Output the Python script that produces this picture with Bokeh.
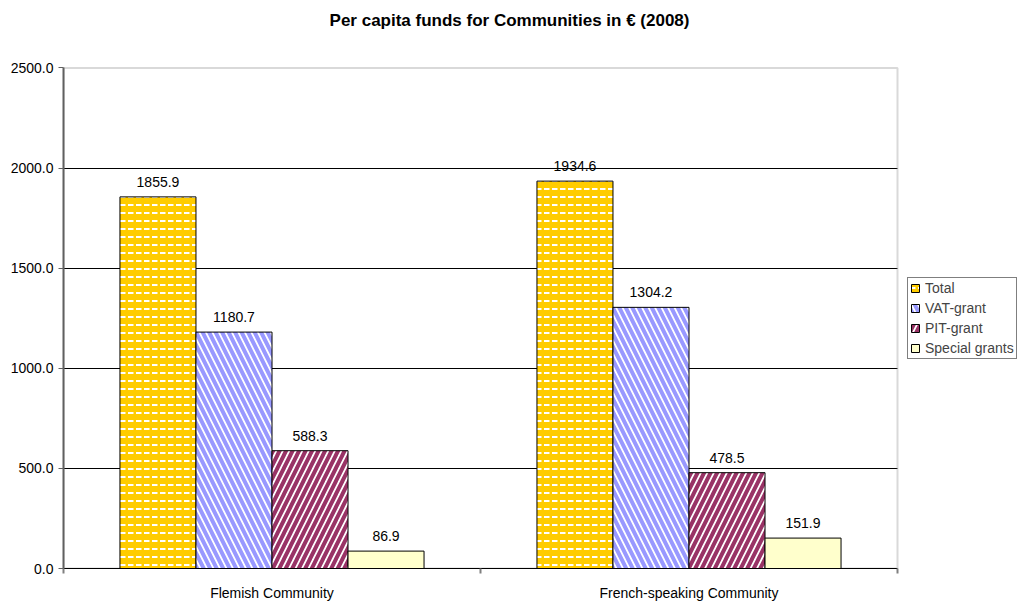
from bokeh.plotting import figure
from bokeh.models import (ColumnDataSource, FixedTicker, Range1d, Legend, LegendItem, Grid,
                          BoxAnnotation, Label)
from bokeh.core.properties import value
from bokeh.embed import file_html
from bokeh.resources import INLINE

title_text = "Per capita funds for Communities in € (2008)"
categories = ["Flemish Community", "French-speaking Community"]
series_names = ["Total", "VAT-grant", "PIT-grant", "Special grants"]
total = [1855.9, 1934.6]
vat_grant = [1180.7, 1304.2]
pit_grant = [588.3, 478.5]
special_grants = [86.9, 151.9]
y_ticks = [0, 500, 1000, 1500, 2000, 2500]

series_values = [total, vat_grant, pit_grant, special_grants]
fills = ["#FFCC00", "#FFFFFF", "#FFFFFF", "#FFFFCC"]
hatches = ["horizontal_dash", "left_diagonal_line", "right_diagonal_line", " "]
hatch_colors = ["#FFFFFF", "#9999FF", "#993366", "#FFFFFF"]
hatch_weights = [2, 4, 4, 1]
hatch_scales = [8, 13, 13, 8]

FONT = "Liberation Sans"
FS = "14px"
bar_w = 0.1823
n = len(categories)
y_max = y_ticks[-1]

# frame covers the whole canvas right/top; plot area is 834 x 505 px of it
W, H = 1020, 603
left_px, bottom_px = 63, 30
area_w, area_h = 834, 505
frame_w, frame_h = W - left_px, H - bottom_px
x_end = n * frame_w / area_w
y_end = y_max * frame_h / area_h

p = figure(width=W, height=H, output_backend="svg", toolbar_location=None,
           x_range=Range1d(0, x_end), y_range=Range1d(0, y_end),
           min_border_left=left_px, min_border_right=0, min_border_top=0,
           min_border_bottom=bottom_px)

p.outline_line_color = None
p.background_fill_color = "white"
p.border_fill_color = "white"

p.xgrid.visible = False
p.ygrid.grid_line_color = "black"
p.ygrid.grid_line_width = 1
p.ygrid.ticker = FixedTicker(ticks=y_ticks[1:-1])

# hide grid lines to the right of the plot area
p.add_layout(BoxAnnotation(left=n, fill_color="white", fill_alpha=1, line_color=None,
                           level="underlay"))
# plot area border (gray top / right)
p.add_layout(BoxAnnotation(left=0, right=n, bottom=0, top=y_max, fill_alpha=0,
                           line_color="#808080", line_width=2, level="underlay"))

yaxis = p.yaxis[0]
yaxis.ticker = FixedTicker(ticks=y_ticks)
yaxis.bounds = (0, y_max)
yaxis.major_label_overrides = {t: f"{t:.1f}" for t in y_ticks}
yaxis.axis_line_color = "#606060"
yaxis.axis_line_width = 2
yaxis.major_tick_line_color = "#606060"
yaxis.major_tick_out = 5
yaxis.major_tick_in = 0
yaxis.minor_tick_line_color = None
yaxis.major_label_text_font = FONT
yaxis.major_label_text_font_size = FS
yaxis.major_label_text_color = "black"
yaxis.major_label_standoff = 5

xaxis = p.xaxis[0]
centers = [i + 0.5 for i in range(n)]
xaxis.ticker = FixedTicker(ticks=centers, minor_ticks=list(range(n + 1)))
xaxis.major_label_overrides = {c: name for c, name in zip(centers, categories)}
xaxis.bounds = (0, n)
xaxis.major_tick_line_color = None
xaxis.major_tick_out = 0
xaxis.minor_tick_out = 5
xaxis.minor_tick_in = 0
xaxis.minor_tick_line_color = "#808080"
xaxis.minor_tick_line_width = 2
xaxis.axis_line_color = "black"
xaxis.axis_line_width = 1
xaxis.major_label_text_font = FONT
xaxis.major_label_text_font_size = FS
xaxis.major_label_text_color = "black"
xaxis.major_label_standoff = 11

items = []
for k, (name, vals) in enumerate(zip(series_names, series_values)):
    xs = [i + 0.5 + (k - 1.5) * bar_w for i in range(n)]
    src = ColumnDataSource(dict(x=xs, top=vals, lab=[f"{v:.1f}" for v in vals]))
    r = p.vbar(x="x", top="top", width=bar_w, bottom=0, source=src,
               fill_color=fills[k], line_color="black", line_width=1,
               hatch_pattern=hatches[k], hatch_color=hatch_colors[k],
               hatch_weight=hatch_weights[k], hatch_scale=hatch_scales[k])
    items.append(LegendItem(label=name, renderers=[r]))
    p.text(x="x", y="top", text="lab", source=src, text_align="center",
           text_baseline="bottom", y_offset=-10, text_font=value(FONT),
           text_font_size=FS, text_color="black")

# chart title (centered on the page, near the top)
title_cx_px, title_cy_px = 509, 20
p.add_layout(Label(x=(title_cx_px - left_px) * x_end / frame_w,
                   y=(H - title_cy_px - bottom_px) * y_end / frame_h,
                   text=title_text, text_align="center", text_baseline="middle",
                   text_font=FONT, text_font_size="17px", text_font_style="bold",
                   text_color="black"))

legend = Legend(items=items, location=(844, 209))
legend.label_text_font = FONT
legend.label_text_font_size = FS
legend.glyph_width = 10
legend.glyph_height = 10
legend.label_height = 16
legend.spacing = 4
legend.padding = 2
legend.margin = 0
legend.label_standoff = 5
legend.border_line_color = "black"
legend.border_line_width = 1
p.add_layout(legend, "center")

open("out.html", "w").write(file_html(p, INLINE))
